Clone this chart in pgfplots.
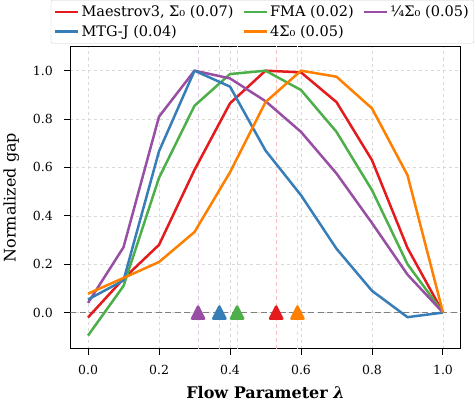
\documentclass[border=0pt]{standalone}
\usepackage{fontspec}
\setmainfont{DejaVu Serif}
\usepackage{pgfplots}
\pgfplotsset{compat=1.18}
\definecolor{cred}{HTML}{E41A1C}
\definecolor{cblue}{HTML}{377EB8}
\definecolor{cgreen}{HTML}{4DAF4A}
\definecolor{cpurple}{HTML}{984EA3}
\definecolor{corange}{HTML}{FF7F00}
\begin{document}
\begin{tikzpicture}
\begin{axis}[
  scale only axis,
  width=390pt, height=302pt,
  xmin=-0.05, xmax=1.05, ymin=-0.15, ymax=1.1,
  xtick={0,0.2,0.4,0.6,0.8,1.0},
  ytick={0,0.2,0.4,0.6,0.8,1.0},
  xticklabel style={/pgf/number format/.cd,fixed,fixed zerofill,precision=1, /tikz/.cd, yshift=-7pt},
  yticklabel style={/pgf/number format/.cd,fixed,fixed zerofill,precision=1, /tikz/.cd, xshift=-8pt},
  /pgf/number format/assume math mode=true,
  tick label style={font=\fontsize{12.5}{14}\selectfont},
  tick align=outside, tick pos=left,
  major tick length=6pt,
  tick style={black, line width=1pt},
  axis line style={line width=1.1pt},
  grid=major,
  grid style={gray!30, dashed, line width=0.6pt},
  xlabel={\textbf{Flow Parameter \textit{λ}}},
  ylabel={Normalized gap},
  every axis x label/.style={at={([yshift=-50pt]rel axis cs:0.5,0)}, anchor=base, font=\fontsize{16}{18}\selectfont},
  every axis y label/.style={at={([xshift=-59pt]rel axis cs:0,0.5)}, rotate=90, anchor=center, font=\fontsize{16}{18}\selectfont},
  legend columns=3,
  legend style={at={(0.492,1)}, anchor=south, yshift=3pt, font=\fontsize{14.5}{17}\selectfont,
    draw=gray!40, rounded corners=2pt, fill=white, fill opacity=0.85, text opacity=1,
    /tikz/every even column/.append style={column sep=7pt},
    /tikz/every odd column/.append style={column sep=0pt},
    row sep=3pt,
    inner xsep=3pt, inner ysep=3.5pt},
  legend cell align=left,
  legend image code/.code={\draw[#1, line width=2.5pt] (0pt,0pt) -- (23pt,0pt);},
  every axis plot/.append style={line width=2.5pt, line join=round},
]
% reference lines
\addplot[forget plot, black!50, line width=1.4pt, dash pattern=on 6pt off 3.5pt] coordinates {(-0.05,0) (1.05,0)};
\addplot[forget plot, cpurple!28, line width=1pt, dash pattern=on 4pt off 3pt] coordinates {(0.31,-0.15) (0.31,1.1)};
\addplot[forget plot, cblue!28, line width=1pt, dash pattern=on 4pt off 3pt] coordinates {(0.37,-0.15) (0.37,1.1)};
\addplot[forget plot, cgreen!28, line width=1pt, dash pattern=on 4pt off 3pt] coordinates {(0.42,-0.15) (0.42,1.1)};
\addplot[forget plot, cred!28, line width=1pt, dash pattern=on 4pt off 3pt] coordinates {(0.53,-0.15) (0.53,1.1)};
\addplot[forget plot, corange!28, line width=1pt, dash pattern=on 4pt off 3pt] coordinates {(0.59,-0.15) (0.59,1.1)};
% series
\addplot[cred] coordinates {(0,-0.02) (0.1,0.14) (0.2,0.28) (0.3,0.59) (0.4,0.865) (0.5,1.0) (0.6,0.993) (0.7,0.87) (0.8,0.63) (0.9,0.267) (1.0,0.0)};
\addlegendentry{Maestrov3, Σ₀ (0.07)}
\addplot[cgreen] coordinates {(0,-0.095) (0.1,0.11) (0.2,0.557) (0.3,0.855) (0.4,0.986) (0.5,1.0) (0.6,0.92) (0.7,0.747) (0.8,0.506) (0.9,0.20) (1.0,0.0)};
\addlegendentry{FMA (0.02)}
\addplot[cpurple] coordinates {(0,0.04) (0.1,0.27) (0.2,0.81) (0.3,1.0) (0.4,0.968) (0.5,0.874) (0.6,0.747) (0.7,0.575) (0.8,0.37) (0.9,0.157) (1.0,0.0)};
\addlegendentry{¼Σ₀ (0.05)}
\addplot[cblue] coordinates {(0,0.054) (0.1,0.133) (0.2,0.667) (0.3,1.0) (0.4,0.934) (0.5,0.67) (0.6,0.485) (0.7,0.264) (0.8,0.09) (0.9,-0.019) (1.0,0.0)};
\addlegendentry{MTG-J (0.04)}
\addplot[corange] coordinates {(0,0.078) (0.1,0.143) (0.2,0.209) (0.3,0.333) (0.4,0.58) (0.5,0.87) (0.6,1.0) (0.7,0.975) (0.8,0.844) (0.9,0.568) (1.0,0.0)};
\addlegendentry{4Σ₀ (0.05)}
% optimum markers
\addplot[forget plot, only marks, mark=triangle*, mark size=7pt, cpurple, mark options={yshift=-2pt, yscale=1.15}] coordinates {(0.31,0)};
\addplot[forget plot, only marks, mark=triangle*, mark size=7pt, cblue, mark options={yshift=-2pt, yscale=1.15}] coordinates {(0.37,0)};
\addplot[forget plot, only marks, mark=triangle*, mark size=7pt, cgreen, mark options={yshift=-2pt, yscale=1.15}] coordinates {(0.42,0)};
\addplot[forget plot, only marks, mark=triangle*, mark size=7pt, cred, mark options={yshift=-2pt, yscale=1.15}] coordinates {(0.53,0)};
\addplot[forget plot, only marks, mark=triangle*, mark size=7pt, corange, mark options={yshift=-2pt, yscale=1.15}] coordinates {(0.59,0)};
\end{axis}
\end{tikzpicture}
\end{document}
